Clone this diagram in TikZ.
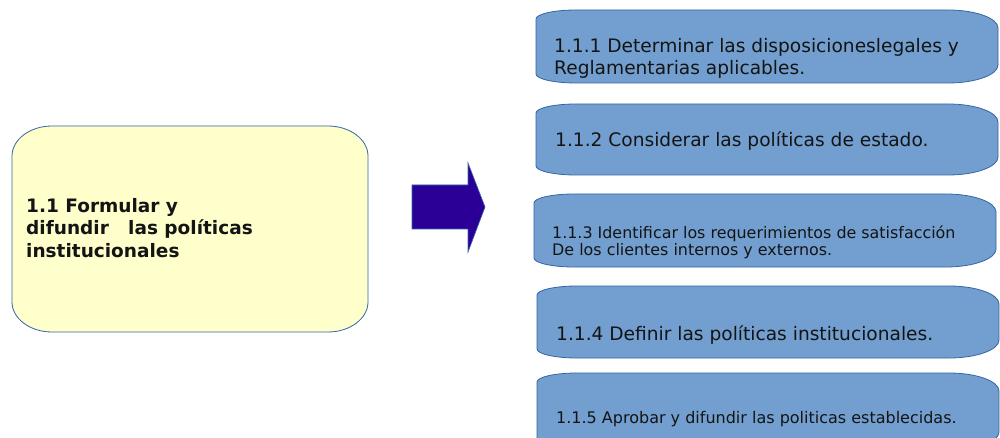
\documentclass[tikz,border=0pt]{standalone}
\usepackage{fontspec}
\setmainfont{DejaVu Sans}
\definecolor{boxblue}{HTML}{729FCF}
\definecolor{edgeblue}{HTML}{3465A4}
\definecolor{paleyellow}{HTML}{FFFFCC}
\definecolor{arrowblue}{HTML}{2A0096}
% #1 x0, #2 y0, #3 x1, #4 y1, #5 rx left, #6 ry left, #7 rx right, #8 ry right, #9 style
\newcommand\softbox[9]{%
  \draw[#9] (#1,{#2+#6}) .. controls (#1,{#2+0.45*#6}) and ({#1+0.45*#5},#2) .. ({#1+#5},#2)
    -- ({#3-#7},#2) .. controls ({#3-0.45*#7},#2) and (#3,{#2+0.45*#8}) .. (#3,{#2+#8})
    -- (#3,{#4-#8}) .. controls (#3,{#4-0.45*#8}) and ({#3-0.45*#7},#4) .. ({#3-#7},#4)
    -- ({#1+#5},#4) .. controls ({#1+0.45*#5},#4) and (#1,{#4-0.45*#6}) .. (#1,{#4-#6}) -- cycle;}
\begin{document}
\begin{tikzpicture}[x=1pt,y=-1pt,
  lbl/.style={inner sep=0pt, anchor=base west, align=left, text=black!92},
  taskbox/.style={fill=boxblue, draw=edgeblue, line width=0.8pt},
  mainbox/.style={fill=paleyellow, draw=edgeblue, line width=0.8pt},
  blockarrow/.style={fill=arrowblue, draw=edgeblue, line width=0.6pt}]
\clip (0,0) rectangle (1000,438);
\fill[white] (0,0) rectangle (1000,438);
% left box
\softbox{12}{126}{368}{332}{40}{30}{40}{30}{mainbox}
\node[lbl, font=\fontsize{18.5}{22}\selectfont\bfseries] (main) at (26,257)
  {1.1 Formular y\\difundir\ \ \ las políticas\\institucionales};
% arrow
\draw[blockarrow] (412,185) -- (468,185) -- (468,163) -- (485,207) -- (468,252) -- (468,229) -- (412,229) -- cycle;
% right boxes
\softbox{536}{10}{998}{83}{40}{9}{50}{18}{taskbox}
\node[lbl, font=\fontsize{18.6}{22}\selectfont] (t1) at (554,75)
  {1.1.1 Determinar las disposicioneslegales y\\Reglamentarias aplicables.};
\softbox{536}{104}{998}{175}{40}{9}{50}{18}{taskbox}
\node[lbl, font=\fontsize{18.6}{22}\selectfont] (t2) at (555,147)
  {1.1.2 Considerar las políticas de estado.};
\softbox{534}{194}{996}{267}{40}{9}{50}{18}{taskbox}
\node[lbl, font=\fontsize{15.9}{17}\selectfont] (t3) at (552,255)
  {1.1.3 Identificar los requerimientos de satisfacción\\De los clientes internos y externos.};
\softbox{537}{286}{999}{358}{40}{9}{50}{18}{taskbox}
\node[lbl, font=\fontsize{18.6}{22}\selectfont] (t4) at (556,340)
  {1.1.4 Definir las políticas institucionales.};
\softbox{537}{373}{999}{450}{40}{9}{50}{18}{taskbox}
\node[lbl, font=\fontsize{16}{18}\selectfont] (t5) at (556,423)
  {1.1.5 Aprobar y difundir las politicas establecidas.};
\end{tikzpicture}
\end{document}
